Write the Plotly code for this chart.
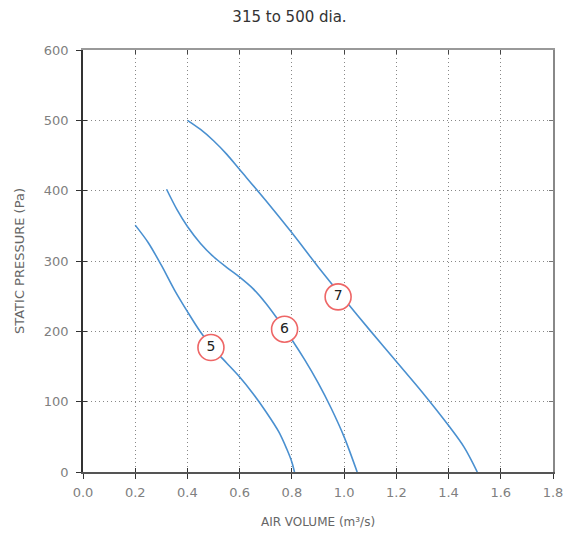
import plotly.graph_objects as go

# ---- data ----
curve5_x = [0.20, 0.25, 0.30, 0.35, 0.40, 0.45, 0.50, 0.55, 0.60, 0.65, 0.70, 0.75, 0.78, 0.80, 0.81]
curve5_y = [351, 326, 294, 259, 228, 199, 175, 155, 135, 112, 86, 57, 33, 14, 0]

curve6_x = [0.32, 0.36, 0.40, 0.45, 0.50, 0.55, 0.60, 0.65, 0.70, 0.75, 0.80, 0.85, 0.90, 0.95, 1.00, 1.05]
curve6_y = [402, 373, 349, 325, 306, 291, 277, 261, 240, 215, 188, 159, 127, 91, 50, 0]

curve7_x = [0.40, 0.45, 0.50, 0.55, 0.60, 0.70, 0.80, 0.90, 1.00, 1.10, 1.20, 1.30, 1.40, 1.46, 1.51]
curve7_y = [500, 487, 471, 452, 430, 386, 340, 292, 246, 201, 157, 113, 66, 35, 0]

label_names = ["5", "6", "7"]
label_x = [0.49, 0.772, 0.977]
label_y = [177, 203, 249]

x_ticks = [0.0, 0.2, 0.4, 0.6, 0.8, 1.0, 1.2, 1.4, 1.6, 1.8]
y_ticks = [0, 100, 200, 300, 400, 500, 600]

title_text = "315 to 500 dia."
x_title = "AIR VOLUME (m³/s)"
y_title = "STATIC PRESSURE (Pa)"

LINE_COLOR = "#4a90d0"
FONT = "DejaVu Sans, sans-serif"

fig = go.Figure()
for cx, cy in [(curve5_x, curve5_y), (curve6_x, curve6_y), (curve7_x, curve7_y)]:
    fig.add_trace(go.Scatter(x=cx, y=cy, mode="lines",
                             line=dict(color=LINE_COLOR, width=1.6, shape="spline", smoothing=0.9),
                             showlegend=False, hoverinfo="skip"))

fig.add_trace(go.Scatter(x=label_x, y=label_y, mode="markers+text", text=label_names,
                         textposition="middle center",
                         textfont=dict(family=FONT, size=14, color="#222"),
                         marker=dict(size=26, color="white",
                                     line=dict(color="#ee6666", width=1.6)),
                         showlegend=False, hoverinfo="skip"))

xr = [0, 1.8]
yr = [0, 600]
GRID = dict(showgrid=True, gridcolor="#888", griddash="1px,3px", gridwidth=1)
fig.update_layout(
    width=563, height=525,
    margin=dict(l=75, r=18, t=42, b=61),
    paper_bgcolor="white", plot_bgcolor="white",
    font=dict(family=FONT, color="#777"),
    title=dict(text=title_text, x=0.5, xanchor="center", xref="container",
               y=1 - 9 / 525, yanchor="middle", yref="container",
               font=dict(family=FONT, size=15, color="#333")),
    xaxis=dict(range=xr, tickvals=x_ticks, tickformat=".1f", automargin=False,
               showline=True, linecolor="#555", linewidth=1.5,
               ticks="outside", ticklen=5, tickcolor="#333", tickwidth=1.3,
               ticklabelstandoff=3, ticklabeloverflow="allow",
               tickfont=dict(family=FONT, size=13, color="#808080"),
               title=dict(text=x_title, font=dict(family=FONT, size=12, color="#666"), standoff=18),
               zeroline=False, fixedrange=True, **GRID),
    yaxis=dict(range=yr, tickvals=y_ticks, automargin=False,
               showline=True, linecolor="#333", linewidth=1.5,
               ticks="outside", ticklen=5, tickcolor="#333", tickwidth=1.3,
               ticklabelstandoff=5, ticklabeloverflow="allow",
               tickfont=dict(family=FONT, size=13, color="#808080"),
               title=dict(text=y_title, font=dict(family=FONT, size=13, color="#666"), standoff=16),
               zeroline=False, fixedrange=True, **GRID),
    xaxis2=dict(range=xr, tickvals=x_ticks, overlaying="x", side="bottom", anchor="y",
                showticklabels=False, showgrid=False, zeroline=False, automargin=False,
                ticks="inside", ticklen=4, tickcolor="#333", tickwidth=1.3, showline=False),
    xaxis3=dict(range=xr, tickvals=x_ticks, overlaying="x", side="top", anchor="y",
                showticklabels=False, showgrid=False, zeroline=False, automargin=False,
                ticks="inside", ticklen=4, tickcolor="#444", tickwidth=1.3,
                showline=True, linecolor="#999", linewidth=1.5),
    yaxis2=dict(range=yr, tickvals=y_ticks, overlaying="y", side="left", anchor="x",
                showticklabels=False, showgrid=False, zeroline=False, automargin=False,
                ticks="inside", ticklen=4, tickcolor="#333", tickwidth=1.3, showline=False),
    yaxis3=dict(range=yr, tickvals=y_ticks, overlaying="y", side="right", anchor="x",
                showticklabels=False, showgrid=False, zeroline=False, automargin=False,
                ticks="inside", ticklen=4, tickcolor="#777", tickwidth=1.3,
                showline=True, linecolor="#888", linewidth=1.5),
)

for xa, ya in [("x2", "y2"), ("x3", "y3")]:
    fig.add_trace(go.Scatter(x=[None], y=[None], xaxis=xa, yaxis=ya, showlegend=False, hoverinfo="skip"))

fig.write_html("out.html")
